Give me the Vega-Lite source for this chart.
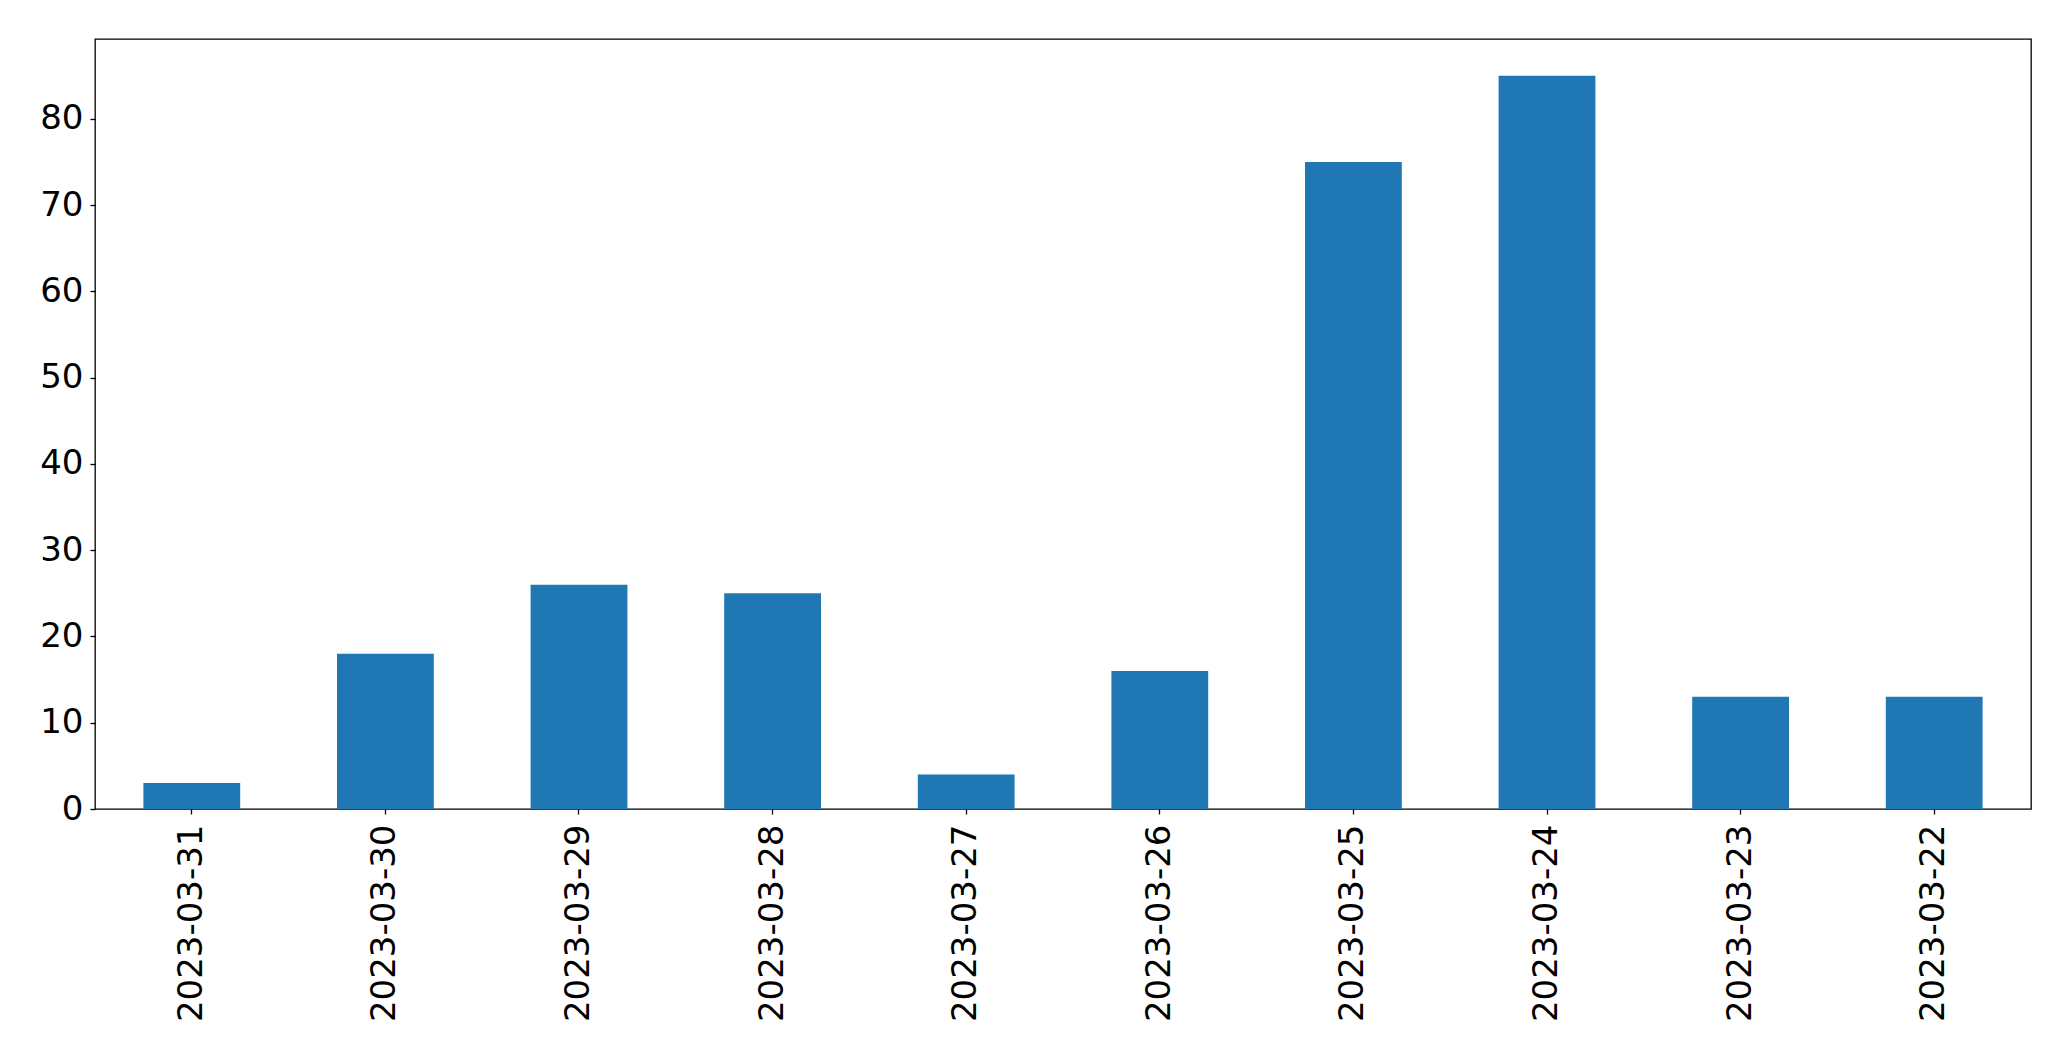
{
  "$schema": "https://vega.github.io/schema/vega-lite/v6.json",
  "width": 1936,
  "height": 770,
  "autosize": {"type": "none"},
  "padding": {"left": 95, "top": 39, "right": 40, "bottom": 252},
  "background": "white",
  "data": {
    "values": [
      {"date": "2023-03-31", "count": 3},
      {"date": "2023-03-30", "count": 18},
      {"date": "2023-03-29", "count": 26},
      {"date": "2023-03-28", "count": 25},
      {"date": "2023-03-27", "count": 4},
      {"date": "2023-03-26", "count": 16},
      {"date": "2023-03-25", "count": 75},
      {"date": "2023-03-24", "count": 85},
      {"date": "2023-03-23", "count": 13},
      {"date": "2023-03-22", "count": 13}
    ]
  },
  "config": {
    "view": {"stroke": "black", "strokeWidth": 1.3},
    "axis": {
      "labelFont": "DejaVu Sans",
      "labelFontSize": 34,
      "labelColor": "black",
      "labelLimit": 0,
      "tickColor": "black",
      "tickSize": 5,
      "tickWidth": 1.3,
      "domain": false,
      "grid": false,
      "title": null
    }
  },
  "mark": {"type": "bar", "color": "#1f77b4"},
  "encoding": {
    "x": {
      "field": "date",
      "type": "nominal",
      "sort": null,
      "scale": {"paddingInner": 0.5, "paddingOuter": 0.25},
      "axis": {"labelAngle": -90, "labelPadding": 10}
    },
    "y": {
      "field": "count",
      "type": "quantitative",
      "scale": {"domain": [0, 89.25], "nice": false},
      "axis": {"values": [0, 10, 20, 30, 40, 50, 60, 70, 80], "labelPadding": 7}
    }
  }
}
